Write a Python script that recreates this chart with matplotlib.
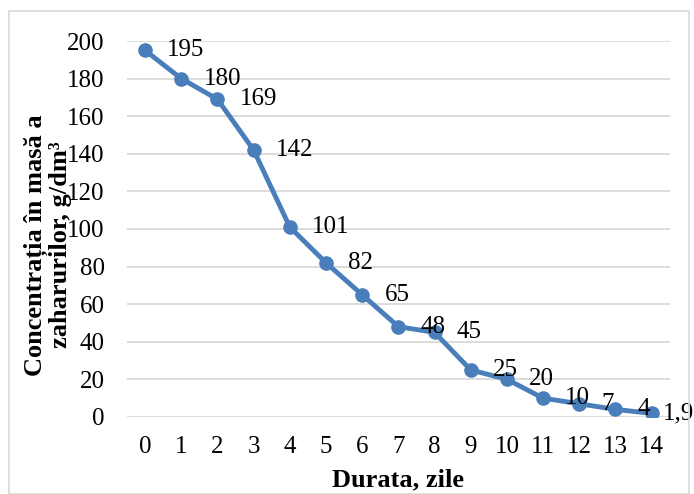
import matplotlib
matplotlib.use('Agg')
import matplotlib.pyplot as plt
from matplotlib.patches import Rectangle

plt.rcParams['font.family'] = ['Liberation Serif', 'DejaVu Serif']

days = list(range(15))
conc = [195, 180, 169, 142, 101, 82, 65, 48, 45, 25, 20, 10, 7, 4, 1.9]
labels = ['195', '180', '169', '142', '101', '82', '65', '48', '45', '25', '20', '10', '7', '4', '1,9']
yticks = [0, 20, 40, 60, 80, 100, 120, 140, 160, 180, 200]

lineColor = '#4A7EBB'

fig = plt.figure(figsize=(6.94, 4.94), dpi=100)
ax = fig.add_axes([0.183, 0.156, 0.782, 0.761])

# chart area border like Excel
fig.patches.append(Rectangle((9/694, 0), 680/694, 1 - 11/494, transform=fig.transFigure,
                             fill=False, edgecolor='#D9D9D9', linewidth=1.2))

ax.plot(days, conc, color=lineColor, linewidth=3.5, marker='o', markersize=9.5,
        solid_capstyle='round', zorder=3)
for i, (x, y, t) in enumerate(zip(days, conc, labels)):
  # last label is pushed in so it stays inside the chart area
  off = 8 if i == len(days) - 1 else 16
  ax.annotate(t, (x, y), xytext=(off, 0), textcoords='offset points',
              ha='left', va='center', fontsize=18, color='black', zorder=4,
              annotation_clip=False)

ax.set_xlim(-0.5, 14.5)
ax.set_ylim(0, 200)
ax.set_xticks(days)
ax.set_yticks(yticks)
ax.tick_params(axis='both', length=0, labelsize=18)
ax.tick_params(axis='x', pad=14)
ax.tick_params(axis='y', pad=16)
for s in ax.spines.values():
  s.set_visible(False)
ax.grid(axis='y', color='#D9D9D9', linewidth=1.3)
ax.set_axisbelow(True)

fig.text(0.5 * (127 + 670) / 694, 1 - 480/494, 'Durata, zile', ha='center', va='center',
         fontsize=19, fontweight='bold')
fig.text(48/694, 1 - 245/494, 'Concentrația în masă a\nzaharurilor, g/dm³', ha='center', va='center',
         rotation=90, fontsize=19, fontweight='bold', multialignment='center', linespacing=1.1)

fig.savefig('out.png', dpi=100)
